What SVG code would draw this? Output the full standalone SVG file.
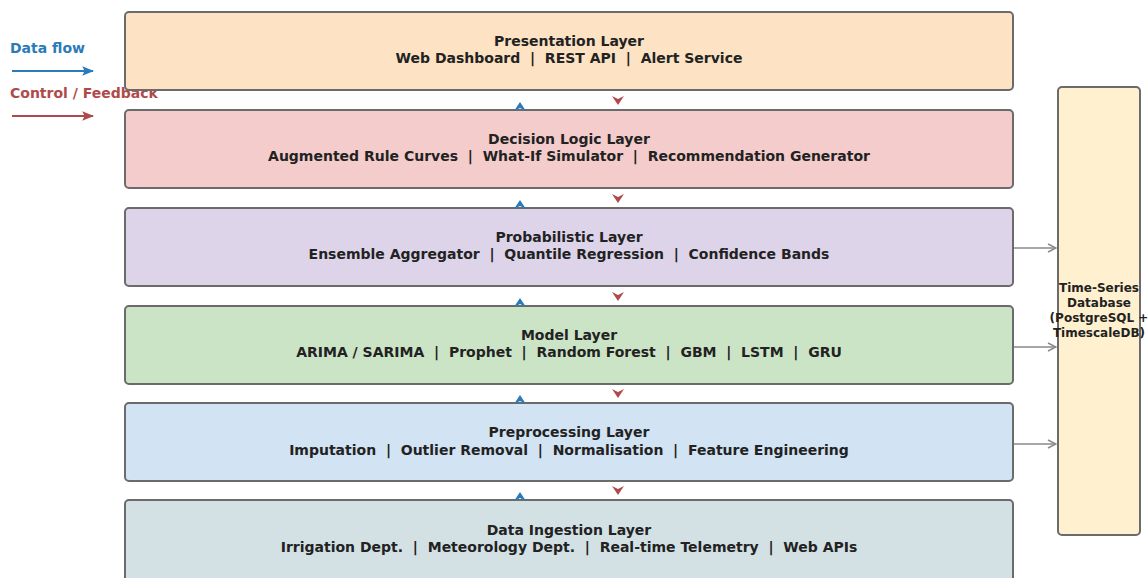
<svg xmlns="http://www.w3.org/2000/svg" width="1148" height="578" viewBox="0 0 1148 578">
<style>
text{font-family:"DejaVu Sans","Liberation Sans",sans-serif;font-weight:bold;white-space:pre;}
.layer{stroke:#6b6b6b;stroke-width:2;}
.t{font-size:14px;fill:#222;text-anchor:middle;}
.db{font-size:12px;fill:#222;text-anchor:middle;}
.up{fill:#2b7bba;}
.down{fill:#b04a4a;}
.store{stroke:#8a8a8a;stroke-width:1.5;fill:none;}
</style>
<defs>
<marker id="gh" viewBox="0 0 10 10" refX="9" refY="5" markerWidth="10" markerHeight="10" markerUnits="userSpaceOnUse" orient="auto">
<path d="M1,1 L9,5 L1,9" fill="none" stroke="#8a8a8a" stroke-width="1.5"/>
</marker>
<marker id="bh" viewBox="0 0 10 10" refX="9" refY="5" markerWidth="12" markerHeight="12" markerUnits="userSpaceOnUse" orient="auto">
<path d="M0,1 L10,5 L0,9 L2,5 Z" fill="#2b7bba"/>
</marker>
<marker id="rh" viewBox="0 0 10 10" refX="9" refY="5" markerWidth="12" markerHeight="12" markerUnits="userSpaceOnUse" orient="auto">
<path d="M0,1 L10,5 L0,9 L2,5 Z" fill="#b04a4a"/>
</marker>
</defs>
<rect width="1148" height="578" fill="#ffffff"/>

<g id="legend">
<text x="10" y="53" style="font-size:14px;fill:#2b7bba">Data flow</text>
<line x1="12" y1="71" x2="93" y2="71" stroke="#2b7bba" stroke-width="2" marker-end="url(#bh)"/>
<text x="10" y="98" style="font-size:14px;fill:#b04a4a">Control / Feedback</text>
<line x1="12" y1="116" x2="93" y2="116" stroke="#b04a4a" stroke-width="2" marker-end="url(#rh)"/>
</g>

<g id="presentation">
<rect class="layer" x="125" y="12" width="888" height="78" rx="4" fill="#fde2c4"/>
<text class="t" x="569" y="46">Presentation Layer</text>
<text class="t" x="569" y="63">Web Dashboard  |  REST API  |  Alert Service</text>
</g>
<g id="decision">
<rect class="layer" x="125" y="110" width="888" height="78" rx="4" fill="#f4cccc"/>
<text class="t" x="569" y="144">Decision Logic Layer</text>
<text class="t" x="569" y="161">Augmented Rule Curves  |  What-If Simulator  |  Recommendation Generator</text>
</g>
<g id="probabilistic">
<rect class="layer" x="125" y="208" width="888" height="78" rx="4" fill="#ddd4ea"/>
<text class="t" x="569" y="242">Probabilistic Layer</text>
<text class="t" x="569" y="259">Ensemble Aggregator  |  Quantile Regression  |  Confidence Bands</text>
</g>
<g id="model">
<rect class="layer" x="125" y="306" width="888" height="78" rx="4" fill="#cce4c6"/>
<text class="t" x="569" y="340">Model Layer</text>
<text class="t" x="569" y="357">ARIMA / SARIMA  |  Prophet  |  Random Forest  |  GBM  |  LSTM  |  GRU</text>
</g>
<g id="preprocessing">
<rect class="layer" x="125" y="403" width="888" height="78" rx="4" fill="#d2e3f3"/>
<text class="t" x="569" y="437">Preprocessing Layer</text>
<text class="t" x="569" y="455">Imputation  |  Outlier Removal  |  Normalisation  |  Feature Engineering</text>
</g>
<g id="ingestion">
<rect class="layer" x="125" y="500" width="888" height="86" rx="4" fill="#d3e1e5"/>
<text class="t" x="569" y="535">Data Ingestion Layer</text>
<text class="t" x="569" y="552">Irrigation Dept.  |  Meteorology Dept.  |  Real-time Telemetry  |  Web APIs</text>
</g>
<g id="database">
<rect class="layer" x="1058" y="87" width="82" height="448" rx="4" fill="#fff1cf"/>
<text class="db" x="1099" y="292">Time-Series</text>
<text class="db" x="1099" y="307">Database</text>
<text class="db" x="1099" y="322">(PostgreSQL +</text>
<text class="db" x="1099" y="337">TimescaleDB)</text>
</g>

<g id="connectors">
<path class="up" d="M520,102 L526,111 L520,108 L514,111 Z"/>
<path class="down" d="M618,105 L612,96 L618,99 L624,96 Z"/>
<path class="up" d="M520,200 L526,209 L520,206 L514,209 Z"/>
<path class="down" d="M618,203 L612,194 L618,197 L624,194 Z"/>
<path class="up" d="M520,298 L526,307 L520,304 L514,307 Z"/>
<path class="down" d="M618,301 L612,292 L618,295 L624,292 Z"/>
<path class="up" d="M520,395 L526,404 L520,401 L514,404 Z"/>
<path class="down" d="M618,398 L612,389 L618,392 L624,389 Z"/>
<path class="up" d="M520,492 L526,501 L520,498 L514,501 Z"/>
<path class="down" d="M618,495 L612,486 L618,489 L624,486 Z"/>
<line class="store" x1="1014" y1="248" x2="1056" y2="248" marker-end="url(#gh)"/>
<line class="store" x1="1014" y1="347" x2="1056" y2="347" marker-end="url(#gh)"/>
<line class="store" x1="1014" y1="444" x2="1056" y2="444" marker-end="url(#gh)"/>
</g>
</svg>
